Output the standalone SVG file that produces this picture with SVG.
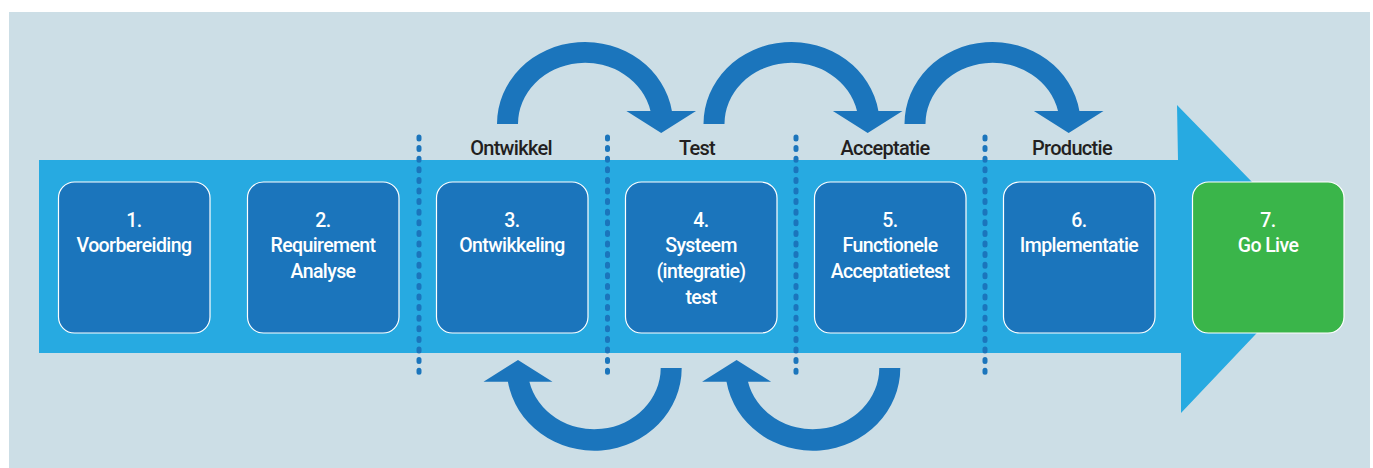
<svg xmlns="http://www.w3.org/2000/svg" xmlns:xlink="http://www.w3.org/1999/xlink" width="1373" height="468" viewBox="0 0 1373 468">
  <style>
    .box { fill: #1B75BC; stroke: #FFFFFF; stroke-width: 1.2; }
    .go { fill: #3AB54A; stroke: #FFFFFF; stroke-width: 1.2; }
    .bt { font-family: Roboto, "Liberation Sans", Arial, sans-serif; font-weight: 500; font-size: 19.5px; fill: #FFFFFF; text-anchor: middle; letter-spacing: -0.6px; }
    .lbl { font-family: Roboto, "Liberation Sans", Arial, sans-serif; font-weight: 500; font-size: 20px; fill: #231F20; text-anchor: middle; letter-spacing: -0.7px; }
    .dots { stroke: #1B75BC; stroke-width: 5; stroke-linecap: round; stroke-dasharray: 2 8.6; fill: none; }
    .arc { fill: #1B75BC; }
  </style>
  <defs>
    <path id="topArc" d="M497,124 A88 82 0 0 1 671.9,111 L696,111 L661.2,133 L626.4,111 L650.5,111 A67 61 0 0 0 518,124 Z"/>
    <path id="botArc" d="M681.7,368 A87.5 82.7 0 0 1 507.9,381.7 L483.5,381.7 L518,360 L552.5,381.7 L529.4,381.7 A66.5 61.3 0 0 0 660.7,368 Z"/>
  </defs>
  <rect x="9" y="12" width="1361" height="456" fill="#CCDEE6"/>
  <g id="band">
    <path d="M39,160 L1178,160 L1177,105 L1327,259 L1181,413 L1181,353 L39,353 Z" fill="#27AAE1"/>
  </g>
  <g id="phase-dividers">
    <line class="dots" x1="419" y1="137" x2="419" y2="379"/>
    <line class="dots" x1="607.5" y1="137" x2="607.5" y2="379"/>
    <line class="dots" x1="796" y1="137" x2="796" y2="379"/>
    <line class="dots" x1="985" y1="137" x2="985" y2="379"/>
  </g>
  <g id="phase-labels">
    <text class="lbl" x="511" y="155">Ontwikkel</text>
    <text class="lbl" x="697" y="155">Test</text>
    <text class="lbl" x="885" y="155">Acceptatie</text>
    <text class="lbl" x="1072" y="155">Productie</text>
  </g>
  <g id="connectors">
    <use xlink:href="#topArc" href="#topArc" class="arc"/>
    <use xlink:href="#topArc" href="#topArc" class="arc" transform="translate(206.5,0)"/>
    <use xlink:href="#topArc" href="#topArc" class="arc" transform="translate(407.5,0)"/>
    <use xlink:href="#botArc" href="#botArc" class="arc"/>
    <use xlink:href="#botArc" href="#botArc" class="arc" transform="translate(218.6,0)"/>
  </g>
  <g id="step1">
    <rect class="box" x="58.5" y="182" width="151.5" height="151" rx="16"/>
    <text class="bt" x="134" y="226.5">1.</text>
    <text class="bt" x="134" y="252.3">Voorbereiding</text>
  </g>
  <g id="step2">
    <rect class="box" x="247.5" y="182" width="151.5" height="151" rx="16"/>
    <text class="bt" x="323" y="226.5">2.</text>
    <text class="bt" x="323" y="252.3">Requirement</text>
    <text class="bt" x="323" y="278">Analyse</text>
  </g>
  <g id="step3">
    <rect class="box" x="436.5" y="182" width="151.5" height="151" rx="16"/>
    <text class="bt" x="512" y="226.5">3.</text>
    <text class="bt" x="512" y="252.3">Ontwikkeling</text>
  </g>
  <g id="step4">
    <rect class="box" x="625.5" y="182" width="151.5" height="151" rx="16"/>
    <text class="bt" x="701" y="226.5">4.</text>
    <text class="bt" x="701" y="252.3">Systeem</text>
    <text class="bt" x="701" y="278">(integratie)</text>
    <text class="bt" x="701" y="303.7">test</text>
  </g>
  <g id="step5">
    <rect class="box" x="814.5" y="182" width="151.5" height="151" rx="16"/>
    <text class="bt" x="890" y="226.5">5.</text>
    <text class="bt" x="890" y="252.3">Functionele</text>
    <text class="bt" x="890" y="278">Acceptatietest</text>
  </g>
  <g id="step6">
    <rect class="box" x="1003.5" y="182" width="151.5" height="151" rx="16"/>
    <text class="bt" x="1079" y="226.5">6.</text>
    <text class="bt" x="1079" y="252.3">Implementatie</text>
  </g>
  <g id="step7">
    <rect class="go" x="1192.5" y="182" width="151.5" height="151" rx="16"/>
    <text class="bt" x="1268" y="226.5">7.</text>
    <text class="bt" x="1268" y="252.3">Go Live</text>
  </g>
</svg>
